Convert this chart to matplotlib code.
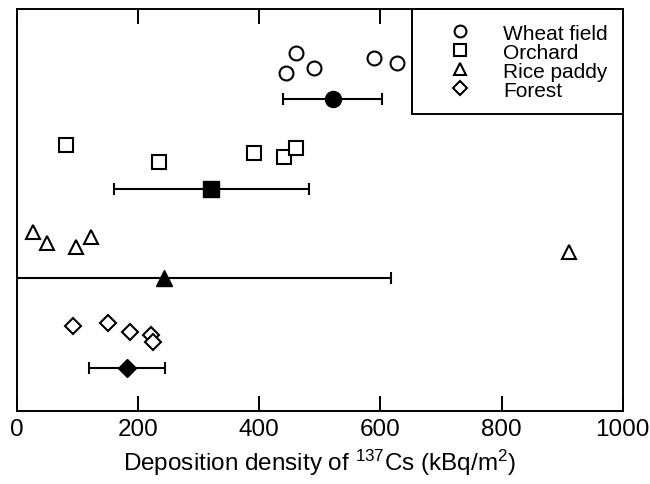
import matplotlib
matplotlib.use("Agg")
import matplotlib.pyplot as plt

plt.rcParams['font.family'] = ['Liberation Sans', 'DejaVu Sans']
plt.rcParams['mathtext.fontset'] = 'custom'
plt.rcParams['mathtext.rm'] = 'Liberation Sans'
plt.rcParams['mathtext.it'] = 'Liberation Sans'
plt.rcParams['mathtext.default'] = 'regular'

categories = ["Wheat field", "Orchard", "Rice paddy", "Forest"]
markers = ["o", "s", "^", "D"]

# individual site values (kBq/m2) and vertical jitter positions (arbitrary 0-100)
wheat_x = [444, 460, 490, 590, 627]
wheat_y = [84.1, 89.1, 85.3, 87.8, 86.6]
orchard_x = [81, 235, 392, 441, 460]
orchard_y = [66.2, 61.9, 64.2, 63.2, 65.4]
rice_x = [27, 49, 98, 123, 911]
rice_y = [44.4, 41.9, 40.8, 43.3, 39.6]
forest_x = [92, 151, 186, 222, 225]
forest_y = [21.0, 21.8, 19.5, 18.8, 17.0]

# means and standard deviations
mean_x = [521, 321, 242, 182]
sd_x = [81, 161, 376, 63]
mean_y = [77.6, 55.1, 33.0, 10.6]

xs = [wheat_x, orchard_x, rice_x, forest_x]
ys = [wheat_y, orchard_y, rice_y, forest_y]

fig = plt.figure(figsize=(6.5, 4.85), dpi=100)
ax = fig.add_axes([0.026, 0.151, 0.932, 0.828])

open_ms = {"o": 10, "s": 10, "^": 9.5, "D": 8}
fill_ms = {"o": 11.5, "s": 11.5, "^": 12, "D": 9.5}

handles = []
for i, cat in enumerate(categories):
    m = markers[i]
    h, = ax.plot(xs[i], ys[i], linestyle="none", marker=m, ms=open_ms[m],
                 mfc="white", mec="black", mew=1.5, label=cat)
    handles.append(h)
    ax.errorbar(mean_x[i], mean_y[i], xerr=sd_x[i], fmt=m, ms=fill_ms[m],
                mfc="black", mec="black", ecolor="black", elinewidth=1.5,
                capsize=4.5, capthick=1.5)

ax.set_xlim(0, 1000)
ax.set_ylim(0, 100)
ax.set_xticks([0, 200, 400, 600, 800, 1000])
ax.set_yticks([])
ax.tick_params(axis="x", direction="in", length=11, width=1.4, top=True,
               labelsize=17.5, pad=5)
for s in ax.spines.values():
    s.set_linewidth(1.4)

ax.set_xlabel("Deposition density of $^{137}$Cs (kBq/m$^{2}$)", fontsize=17.5, labelpad=5)

leg = ax.legend(handles=handles, loc="upper right", bbox_to_anchor=(1, 1),
                borderaxespad=0, fontsize=15, frameon=True, fancybox=False,
                framealpha=1, edgecolor="black", handletextpad=0.5,
                labelspacing=0.0, borderpad=0.7, handlelength=3.2,
                markerscale=0.85)
leg.get_frame().set_linewidth(1.4)
leg.set_zorder(5)

fig.savefig("out.png", dpi=100)
